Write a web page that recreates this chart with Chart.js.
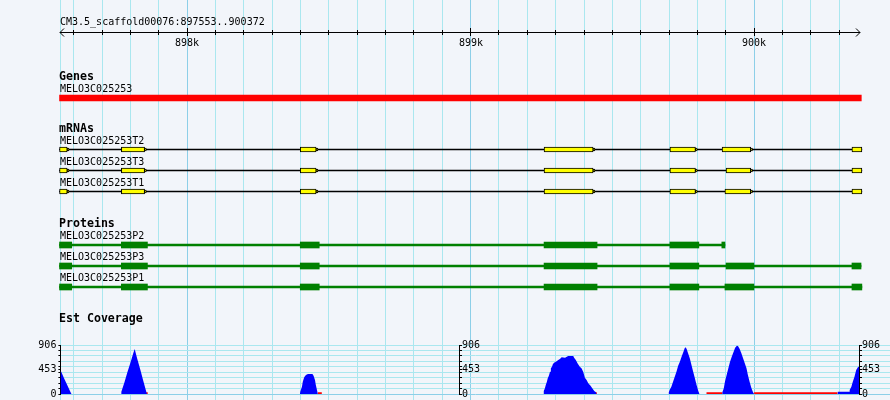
<!DOCTYPE html>
<html>
<head>
<meta charset="utf-8">
<script src="https://cdn.jsdelivr.net/npm/chart.js"></script>
<style>
  html, body { margin: 0; padding: 0; background: #f2f5fa; }
  #browser { position: relative; width: 890px; height: 400px; background: #f2f5fa; overflow: hidden; }
  #browser canvas { position: absolute; left: 0; }
</style>
</head>
<body>
<div id="browser">
  <canvas id="gridChart" width="890" height="400" style="top:0px"></canvas>
  <canvas id="geneChart" width="890" height="50" style="top:60px"></canvas>
  <canvas id="mrnaChart" width="890" height="85" style="top:120px"></canvas>
  <canvas id="proteinChart" width="890" height="85" style="top:215px"></canvas>
  <canvas id="coverageChart" width="890" height="100" style="top:300px"></canvas>
</div>
<script>
// region shown
const refName = 'CM3.5_scaffold00076';
const viewStart = 897553;
const viewEnd = 900372;

// Genes
const geneNames = ['MELO3C025253'];
const geneSpans = [[897550, 900378]];

// mRNAs (exons, bp)
const mrnaNames = ['MELO3C025253T2', 'MELO3C025253T3', 'MELO3C025253T1'];
const mrnaT2Exons = [[897550, 897577], [897768, 897850], [898399, 898455], [899259, 899432], [899703, 899793], [899887, 899988], [900345, 900380]];
const mrnaT3Exons = [[897550, 897577], [897768, 897850], [898399, 898455], [899259, 899432], [899703, 899793], [899901, 899988], [900345, 900380]];
const mrnaT1Exons = [[897550, 897577], [897768, 897850], [898399, 898455], [899259, 899432], [899703, 899793], [899897, 899988], [900345, 900380]];

// Proteins (CDS, bp)
const proteinNames = ['MELO3C025253P2', 'MELO3C025253P3', 'MELO3C025253P1'];
const proteinP2Cds = [[897550, 897593], [897768, 897860], [898399, 898466], [899259, 899446], [899703, 899805], [899886, 899897]];
const proteinP3Cds = [[897550, 897593], [897768, 897860], [898399, 898466], [899259, 899446], [899703, 899805], [899901, 899999], [900345, 900377]];
const proteinP1Cds = [[897550, 897593], [897768, 897860], [898399, 898466], [899259, 899446], [899703, 899805], [899897, 899999], [900345, 900380]];

// Est coverage
const covPos = [
  897553, 897556, 897565, 897577, 897588, 897592,
  897767, 897768, 897779, 897789, 897800, 897810, 897815, 897824, 897835, 897845, 897854, 897858,
  898398, 898399, 898405, 898408, 898413, 898419, 898426, 898442, 898446, 898451, 898454, 898458, 898461,
  899257, 899258, 899262, 899265, 899269, 899272, 899276, 899280, 899283, 899287, 899290, 899294, 899301, 899309, 899315, 899321,
  899333, 899344, 899362, 899365, 899371, 899377, 899385, 899391, 899397, 899403, 899409, 899415, 899423, 899429, 899436, 899442, 899444,
  899698, 899699, 899702, 899708, 899714, 899720, 899726, 899732, 899738, 899744, 899750, 899755, 899758, 899762, 899767, 899773,
  899779, 899785, 899791, 899797, 899803, 899807,
  899887, 899888, 899893, 899897, 899903, 899909, 899915, 899921, 899927, 899933, 899939, 899943, 899949, 899955, 899961, 899967,
  899973, 899978, 899984, 899990, 899996, 900000,
  900294, 900295, 900336, 900337, 900343, 900348, 900354, 900360, 900366, 900372
];
const covVal = [
  425, 410, 301, 166, 43, 0,
  0, 40, 219, 397, 576, 754, 832, 650, 450, 248, 80, 0,
  0, 43, 135, 228, 308, 351, 370, 370, 339, 259, 166, 74, 0,
  0, 55, 105, 166, 228, 290, 339, 413, 475, 505, 549, 579, 598, 629, 647, 678,
  671, 703, 703, 671, 629, 567, 505, 475, 413, 302, 259, 198, 154, 105, 55, 31, 0,
  0, 31, 74, 135, 228, 320, 413, 524, 598, 690, 771, 845, 863, 832, 752, 660,
  536, 413, 290, 166, 55, 0,
  0, 31, 105, 228, 351, 475, 598, 690, 771, 856, 893, 887, 832, 752, 660, 567,
  475, 351, 228, 117, 31, 0,
  0, 43, 43, 74, 135, 228, 320, 444, 493, 518
];
// near-zero stretches drawn red
const lowStarts = [897853, 898461, 899438, 899832, 900000];
const lowEnds = [897861, 898475, 899445, 899888, 900294];
const lowLevel = 12;

const covMax = 906;
const covLabels = [0, 453, 906];

// layout / style
const PLOT_LEFT = 60.4;
const PLOT_RIGHT = 859.6;
const CANVAS_W = 890;
const extEnd = viewEnd + (CANVAS_W - PLOT_RIGHT) * (viewEnd - viewStart) / (PLOT_RIGHT - PLOT_LEFT);
const labelFont = "10px 'DejaVu Sans Mono'";
const titleFont = "bold 11.6px 'DejaVu Sans Mono'";
const minorGrid = '#aae7ef';
const majorGrid = '#8dcfe8';
const NUB_BP = 6;

Chart.defaults.font.family = "'DejaVu Sans Mono', monospace";
Chart.defaults.font.size = 10;
Chart.defaults.color = '#000';

const gridTicks = [viewStart];
for (let v = Math.ceil(viewStart / 100) * 100; v <= viewEnd; v += 100) gridTicks.push(v);
const rulerLabels = gridTicks.filter(v => v % 1000 === 0);

// ruler along the top + title
const ruler = {
  id: 'ruler',
  afterDraw(chart) {
    const ctx = chart.ctx;
    const x = chart.scales.x;
    const x0 = Math.round(x.getPixelForValue(viewStart));
    const x1 = Math.round(x.getPixelForValue(viewEnd));
    const yl = 32.5;
    ctx.save();
    ctx.strokeStyle = '#000';
    ctx.lineWidth = 1;
    ctx.beginPath();
    ctx.moveTo(x0, yl); ctx.lineTo(x1, yl);
    ctx.moveTo(x0 + 4, yl - 4); ctx.lineTo(x0, yl); ctx.lineTo(x0 + 4, yl + 4);
    ctx.moveTo(x1 - 4, yl - 4); ctx.lineTo(x1, yl); ctx.lineTo(x1 - 4, yl + 4);
    ctx.stroke();
    gridTicks.slice(1).forEach(v => {
      const px = Math.round(x.getPixelForValue(v) - 0.5) + 0.5;
      const major = v % 1000 === 0;
      ctx.beginPath();
      ctx.moveTo(px, major ? 28 : 30);
      ctx.lineTo(px, major ? 36 : 35);
      ctx.stroke();
    });
    ctx.fillStyle = '#000';
    ctx.font = labelFont;
    ctx.textAlign = 'center';
    rulerLabels.forEach(v => ctx.fillText((v / 1000) + 'k', Math.round(x.getPixelForValue(v)), 46));
    ctx.textAlign = 'left';
    ctx.fillText(refName + ':' + viewStart + '..' + viewEnd, x0, 25);
    ctx.restore();
  }
};

new Chart(document.getElementById('gridChart'), {
  type: 'scatter',
  data: { datasets: [] },
  options: {
    responsive: false,
    animation: false,
    events: [],
    layout: { padding: { left: PLOT_LEFT, right: 0, top: 0, bottom: 0 } },
    scales: {
      x: {
        type: 'linear', min: viewStart, max: extEnd,
        afterBuildTicks: scale => { scale.ticks = gridTicks.map(v => ({ value: v })); },
        ticks: { display: false },
        border: { display: false },
        grid: { drawTicks: false, color: c => (c.tick && c.tick.value % 1000 === 0) ? majorGrid : minorGrid }
      },
      y: { display: false, min: 0, max: 1 }
    },
    plugins: { legend: { display: false }, tooltip: { enabled: false } }
  },
  plugins: [ruler]
});

// track helpers
function spanBars(names, lists) {
  return lists.flatMap((spans, i) => spans.map(s => ({ y: names[i], x: s })));
}
function outerBars(names, lists) {
  return lists.map((spans, i) => ({ y: names[i], x: [spans[0][0], spans[spans.length - 1][1]] }));
}
function nubBars(names, lists) {
  return lists.flatMap((spans, i) => spans.map(s => ({ y: names[i], x: [s[1], s[1] + NUB_BP] })));
}

const trackLabels = {
  id: 'trackLabels',
  afterDatasetsDraw(chart, args, opts) {
    const ctx = chart.ctx;
    const y = chart.scales.y;
    const left = Math.round(chart.chartArea.left);
    const names = chart.data.labels;
    ctx.save();
    ctx.fillStyle = '#000';
    ctx.textAlign = 'left';
    ctx.textBaseline = 'alphabetic';
    const first = Math.round(y.getPixelForValue(0) - 5.6);
    ctx.font = titleFont;
    ctx.fillText(opts.title, left - 1, first - 12);
    ctx.font = labelFont;
    names.forEach((n, i) => ctx.fillText(n, left, Math.round(y.getPixelForValue(i) - 5.6)));
    ctx.restore();
  }
};

function trackChart(id, title, names, datasets, padTop, padBottom) {
  return new Chart(document.getElementById(id), {
    type: 'bar',
    data: { labels: names, datasets: datasets },
    options: {
      indexAxis: 'y',
      responsive: false,
      animation: false,
      events: [],
      layout: { padding: { left: PLOT_LEFT, right: CANVAS_W - PLOT_RIGHT, top: padTop, bottom: padBottom } },
      scales: {
        x: { type: 'linear', min: viewStart, max: viewEnd, display: false },
        y: { type: 'category', display: false, offset: true }
      },
      plugins: { legend: { display: false }, tooltip: { enabled: false }, trackLabels: { title: title } }
    },
    plugins: [trackLabels]
  });
}

const barBase = { grouped: false, clip: false, borderSkipped: false };

trackChart('geneChart', 'Genes', geneNames, [
  Object.assign({ data: outerBars(geneNames, [geneSpans]), backgroundColor: '#ff0000', borderWidth: 0, barThickness: 6 }, barBase)
], 28, 2);

const mrnaLists = [mrnaT2Exons, mrnaT3Exons, mrnaT1Exons];
trackChart('mrnaChart', 'mRNAs', mrnaNames, [
  Object.assign({ data: spanBars(mrnaNames, mrnaLists), backgroundColor: '#ffff00', borderColor: '#000', borderWidth: 1, barThickness: 5, order: 0 }, barBase),
  Object.assign({}, barBase, { data: nubBars(mrnaNames, mrnaLists), backgroundColor: '#ffff00', borderColor: '#000', borderWidth: 1, barThickness: 3, order: 1,
    clip: { left: false, top: false, bottom: false, right: 1 } }),
  Object.assign({ data: outerBars(mrnaNames, mrnaLists), backgroundColor: '#000', borderWidth: 0, barThickness: 1, order: 2 }, barBase)
], 19, 3);

const proteinLists = [proteinP2Cds, proteinP3Cds, proteinP1Cds];
trackChart('proteinChart', 'Proteins', proteinNames, [
  Object.assign({ data: spanBars(proteinNames, proteinLists), backgroundColor: '#008000', borderWidth: 0, barThickness: 6, order: 0 }, barBase),
  Object.assign({ data: outerBars(proteinNames, proteinLists), backgroundColor: '#008000', borderWidth: 0, barThickness: 2, order: 1 }, barBase)
], 19.5, 2.5);

// coverage
const covTicks = [];
for (let k = 0; k <= 9; k++) covTicks.push(k * covMax / 9);
covTicks.push(covMax / 2);
covTicks.sort((a, b) => a - b);

const lowPoints = [];
lowStarts.forEach((s, i) => {
  lowPoints.push({ x: s, y: lowLevel }, { x: lowEnds[i], y: lowLevel }, { x: lowEnds[i], y: null });
});

const coverageExtras = {
  id: 'coverageExtras',
  afterDraw(chart) {
    const ctx = chart.ctx;
    const x = chart.scales.x, y = chart.scales.y;
    ctx.save();
    ctx.fillStyle = '#000';
    ctx.strokeStyle = '#000';
    ctx.lineWidth = 1;
    ctx.font = titleFont;
    ctx.textAlign = 'left';
    ctx.textBaseline = 'alphabetic';
    ctx.fillText('Est Coverage', Math.round(chart.chartArea.left) - 1, chart.chartArea.top - 23);
    ctx.font = labelFont;
    ctx.textBaseline = 'middle';
    [(viewStart + viewEnd) / 2, viewEnd].forEach(pos => {
      const px = Math.round(x.getPixelForValue(pos) - 0.5) + 0.5;
      ctx.beginPath();
      ctx.moveTo(px, Math.round(y.top)); ctx.lineTo(px, Math.round(y.bottom) + 1);
      covTicks.forEach(t => {
        const py = Math.round(y.getPixelForValue(t) - 0.5) + 0.5;
        ctx.moveTo(px, py); ctx.lineTo(px + 2.5, py);
      });
      ctx.stroke();
      covLabels.forEach(v => ctx.fillText(String(v), px + 2.5, y.getPixelForValue(v)));
    });
    ctx.restore();
  }
};

new Chart(document.getElementById('coverageChart'), {
  type: 'line',
  data: {
    datasets: [
      {
        data: covPos.map((p, i) => ({ x: p, y: covVal[i] })),
        fill: 'origin', backgroundColor: '#0000ff', borderColor: 'rgba(0,0,0,0)', borderWidth: 0,
        pointRadius: 0, tension: 0
      },
      {
        data: lowPoints, fill: false, borderColor: '#ff0000', borderWidth: 2,
        pointRadius: 0, spanGaps: false
      }
    ]
  },
  options: {
    responsive: false,
    animation: false,
    events: [],
    layout: { padding: { left: 0, right: 0, top: 45, bottom: 6 } },
    scales: {
      x: { type: 'linear', min: viewStart, max: extEnd, display: false },
      y: {
        type: 'linear', min: 0, max: covMax,
        afterBuildTicks: scale => { scale.ticks = covTicks.map(v => ({ value: v })); },
        afterFit: scale => { scale.width = PLOT_LEFT; scale.paddingTop = 0; scale.paddingBottom = 0; },
        border: { display: true, color: '#000', width: 1 },
        grid: {
          drawTicks: true, tickLength: 2, tickColor: '#000',
          color: c => !c.tick ? minorGrid : (c.tick.value === covMax / 2 ? 'rgba(0,0,0,0)' : (c.tick.value === 0 ? majorGrid : minorGrid))
        },
        ticks: {
          autoSkip: false, padding: 2, color: '#000', font: { size: 10 },
          callback: v => covLabels.includes(Math.round(v)) ? String(Math.round(v)) : ''
        }
      }
    },
    plugins: { legend: { display: false }, tooltip: { enabled: false } }
  },
  plugins: [coverageExtras]
});
</script>
</body>
</html>
